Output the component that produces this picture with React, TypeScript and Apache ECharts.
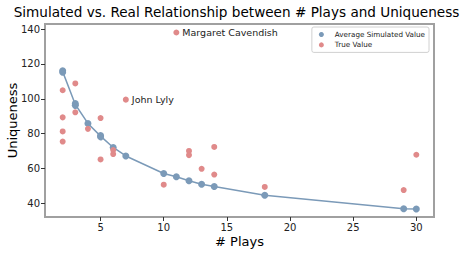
import React, { useEffect, useRef } from "react";
import * as echarts from "echarts";

const simX = [2, 2, 3, 3, 4, 5, 5, 6, 7, 10, 11, 12, 13, 14, 18, 29, 30];
const simY = [116.1, 115.2, 97.2, 96.2, 85.8, 78.8, 78.1, 72, 67.1, 57, 55.1, 52.8, 50.8, 49.5, 44.5, 36.7, 36.6];

const lineX = [2, 3, 4, 5, 6, 7, 10, 11, 12, 13, 14, 18, 29, 30];
const lineY = [115.6, 96.7, 85.8, 78.5, 72, 67.1, 57, 55.1, 52.8, 50.8, 49.5, 44.5, 36.7, 36.6];

const trueX = [2, 2, 2, 2, 3, 3, 4, 5, 5, 6, 6, 7, 10, 11, 12, 12, 13, 14, 14, 18, 29, 30];
const trueY = [104.9, 89.3, 81.2, 75.4, 108.8, 92.2, 82.7, 88.9, 65.1, 70.5, 68.2, 99.5, 50.6, 138.1, 70, 67.6, 59.7, 72.3, 56.4, 49.3, 47.5, 67.8];
const trueNames = ["", "", "", "", "", "", "", "", "", "", "", "John Lyly", "", "Margaret Cavendish", "", "", "", "", "", "", "", ""];

const xTicks = [5, 10, 15, 20, 25, 30];
const yTicks = [40, 60, 80, 100, 120, 140];

const BLUE = "#7b9ab8";
const RED = "#e08a8a";
const FONT = "DejaVu Sans";

export default function App() {
  const ref = useRef<HTMLDivElement>(null);
  useEffect(() => {
    const chart = echarts.init(ref.current!, null, { renderer: "svg" });
    chart.setOption({
      animation: false,
      textStyle: { fontFamily: FONT },
      title: {
        text: "Simulated vs. Real Relationship between # Plays and Uniqueness",
        left: "center",
        top: 0,
        textStyle: { fontFamily: FONT, fontSize: 13.6, fontWeight: "normal", color: "#000" },
      },
      legend: {
        orient: "vertical",
        right: 44,
        top: 27,
        padding: [3, 4, 3, 7],
        itemGap: 1.4,
        itemWidth: 5,
        itemHeight: 5,
        borderColor: "#d0d0d0",
        borderWidth: 1,
        borderRadius: 2,
        backgroundColor: "#fff",
        textStyle: { fontFamily: FONT, fontSize: 7.2, lineHeight: 9, color: "#222", padding: [0, 0, 0, 6] },
        data: [
          { name: "Average Simulated Value", icon: "circle" },
          { name: "True Value", icon: "circle" },
        ],
      },
      grid: {
        left: 45,
        right: 39,
        top: 24,
        bottom: 37,
        outerBoundsMode: "none",
        containLabel: false,
        show: true,
        borderColor: "#a0a0a0",
        borderWidth: 2,
        backgroundColor: "transparent",
      },
      xAxis: {
        type: "value",
        min: 0.6,
        max: 31.4,
        name: "# Plays",
        nameLocation: "middle",
        nameGap: 18,
        nameMoveOverlap: false,
        nameTextStyle: { fontFamily: FONT, fontSize: 13, color: "#000" },
        axisLine: { show: true, lineStyle: { color: "#a0a0a0", width: 2 } },
        axisTick: { show: true, customValues: xTicks, length: 4, lineStyle: { color: "#333" } },
        axisLabel: { customValues: xTicks, fontFamily: FONT, fontSize: 10, color: "#222", margin: 5 },
        splitLine: { show: false },
      },
      yAxis: {
        type: "value",
        min: 32,
        max: 143,
        name: "Uniqueness",
        nameLocation: "middle",
        nameGap: 26,
        nameRotate: 90,
        nameMoveOverlap: false,
        nameTextStyle: { fontFamily: FONT, fontSize: 13, color: "#000" },
        axisLine: { show: true, lineStyle: { color: "#a0a0a0", width: 2 } },
        axisTick: { show: true, customValues: yTicks, length: 4, lineStyle: { color: "#333" } },
        axisLabel: { customValues: yTicks, fontFamily: FONT, fontSize: 10, color: "#222", margin: 5 },
        splitLine: { show: false },
      },
      series: [
        {
          type: "line",
          name: "fit",
          data: lineX.map((x, i) => [x, lineY[i]]),
          showSymbol: false,
          symbol: "none",
          lineStyle: { color: BLUE, width: 1.5 },
          z: 1,
        },
        {
          type: "scatter",
          name: "Average Simulated Value",
          data: simX.map((x, i) => [x, simY[i]]),
          symbolSize: 7,
          itemStyle: { color: BLUE, opacity: 1 },
          z: 2,
        },
        {
          type: "scatter",
          name: "True Value",
          data: trueX.map((x, i) => ({ value: [x, trueY[i]], name: trueNames[i] })),
          symbolSize: 6,
          itemStyle: { color: RED, opacity: 1 },
          label: {
            show: true,
            position: "right",
            distance: 3,
            fontFamily: FONT,
            fontSize: 9.5,
            color: "#222",
            formatter: (p: any) => p.name || "",
          },
          z: 3,
        },
      ],
    });
    return () => chart.dispose();
  }, []);
  return <div ref={ref} style={{ width: 473, height: 254, position: "absolute", left: 0, top: 0 }} />;
}
